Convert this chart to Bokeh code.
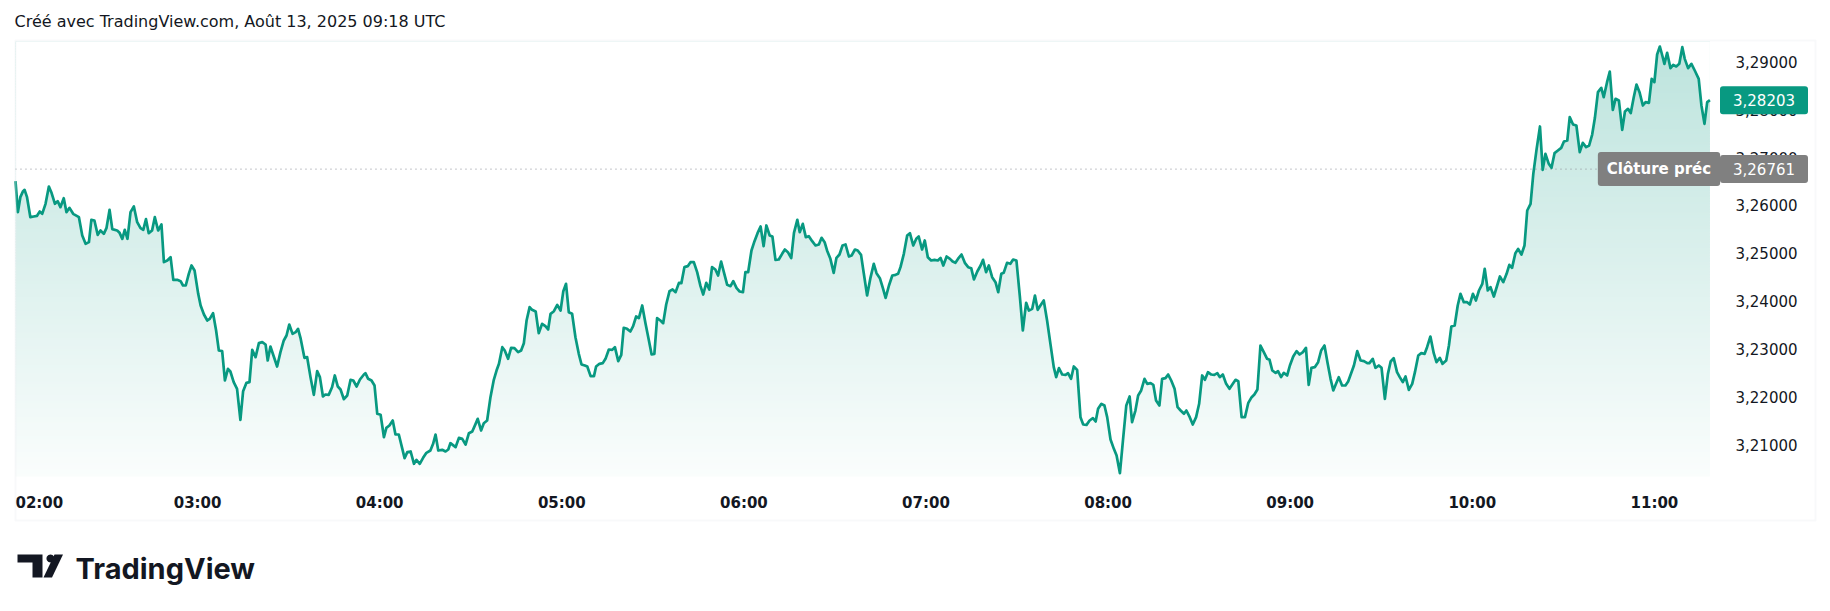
import numpy as np
from bokeh.plotting import figure
from bokeh.models import (Range1d, FixedTicker, CustomJSTickFormatter, Label,
                          BoxAnnotation, PolyAnnotation)
from bokeh.embed import file_html
from bokeh.resources import INLINE

# ---------------- data (minutes after 02:00, price) ----------------
minutes = [
    0.0, 0.8, 1.6, 2.5, 3.0, 3.8, 4.9, 6.0, 7.1, 8.0,
    8.8, 9.9, 11.0, 11.8, 13.0, 13.9, 14.8, 15.9, 16.8, 17.8,
    19.0, 20.9, 22.0, 23.1, 24.2, 25.0, 26.0, 27.1, 28.0, 29.1,
    30.0, 31.0, 31.9, 33.5, 34.3, 35.2, 36.0, 36.9, 37.9, 39.0,
    40.1, 41.2, 42.1, 43.0, 43.9, 45.0, 45.9, 47.0, 48.1, 48.9,
    50.0, 51.1, 52.0, 53.3, 54.4, 55.2, 56.1, 57.1, 58.0, 59.0,
    60.2, 61.0, 62.1, 63.2, 64.0, 65.1, 66.1, 67.0, 68.1, 69.0,
    70.0, 70.8, 71.9, 73.0, 74.1, 75.0, 76.1, 77.1, 78.0, 79.1,
    80.2, 81.3, 82.4, 83.1, 84.0, 85.1, 86.2, 87.3, 88.4, 89.3,
    90.2, 91.3, 92.3, 93.1, 93.9, 95.2, 96.1, 97.2, 98.3, 99.4,
    100.3, 101.3, 102.1, 103.2, 104.3, 105.2, 106.2, 107.1, 108.2, 109.3,
    110.4, 111.3, 112.4, 113.5, 114.8, 115.3, 116.2, 117.3, 118.3, 119.2,
    120.3, 121.4, 122.2, 123.2, 124.3, 125.2, 126.3, 127.4, 128.2, 129.1,
    130.2, 131.3, 132.1, 133.2, 134.3, 135.4, 136.7, 137.6, 138.4, 139.3,
    140.6, 141.7, 142.6,
    143.3, 145.0, 146.1, 147.2, 148.3, 149.4, 150.5, 151.6, 152.3, 153.4,
    154.3, 155.4, 156.5, 157.6, 158.5, 159.3, 160.4, 161.2, 162.3, 163.3,
    164.4, 165.6, 166.6, 167.5, 168.4, 169.4, 170.2, 171.4, 172.4, 173.5,
    174.6, 175.5, 176.3, 177.4, 178.5, 179.6, 180.5, 181.4, 182.3, 183.4,
    184.5, 185.6, 186.5, 187.6, 188.4, 189.5, 190.6, 191.3, 192.4, 193.5,
    194.4, 195.5, 196.6, 197.5, 198.6, 199.6, 200.4, 201.5, 202.6, 203.5,
    204.5, 205.4, 206.5, 207.6, 208.7, 209.6, 210.5, 211.4, 212.5, 213.4,
    214.4, 215.5, 216.5, 217.5, 218.6, 219.4, 220.4, 221.5, 222.4, 223.5,
    224.6, 225.7, 226.6, 227.6, 228.6, 229.5, 230.6, 231.5, 232.5, 233.4,
    234.5, 235.6, 236.5, 237.6, 238.6, 239.7, 240.5, 241.4, 242.5, 243.5,
    244.5, 245.5, 246.5, 247.4, 248.5, 249.4, 250.4, 251.5, 252.6, 253.5,
    254.5, 255.6, 256.5, 257.6, 258.4, 259.4, 260.4, 261.4, 262.5, 263.6,
    264.7, 265.6, 266.6, 267.4, 268.5, 269.6, 270.5, 271.5, 272.5, 273.5,
    274.6, 275.5, 276.6, 277.5, 278.6, 279.5, 280.6, 281.7, 282.8, 283.7,
    284.8, 285.8, 286.7, 287.8, 288.9, 290.0, 290.8,
    291.6, 292.7, 293.8, 294.7, 295.8, 296.8, 297.6, 298.7, 299.6, 300.6,
    301.7, 302.8, 303.9, 304.8, 305.7, 306.8, 307.9, 308.8, 309.7, 310.8,
    311.7, 312.8, 313.9, 314.9, 315.8, 316.9, 318.0, 318.8, 319.8, 320.7,
    321.8, 322.9, 323.8, 324.8, 325.6, 326.7, 327.8, 328.7, 329.8, 330.9,
    331.9, 333.0, 333.9, 335.0, 335.9, 336.8, 337.7, 338.8, 339.9, 341.0,
    342.1, 342.9, 343.8, 344.9, 346.0, 346.8, 347.8, 348.7, 349.8, 350.9,
    351.8, 352.9, 353.9, 355.0, 355.9, 356.7, 357.8, 358.8, 359.7, 360.8,
    361.9, 362.8, 363.9, 364.9, 366.0, 367.1, 367.9, 369.0, 369.9, 370.9,
    372.0, 372.9, 374.0, 374.9, 375.8, 376.9, 377.8, 378.9, 379.8, 380.8,
    381.9, 382.9, 383.9, 385.0, 385.8, 386.9, 387.9, 389.0, 390.0, 391.0,
    391.9, 392.9, 394.0, 395.0, 396.0, 396.8, 397.8, 398.9, 400.0, 401.1,
    402.0, 402.9, 404.0, 405.1, 406.2, 407.3, 408.2, 409.2, 410.2, 411.3,
    412.4, 413.2, 414.1, 415.2, 416.0, 417.0, 417.9, 419.0, 419.9, 421.0,
    422.1, 423.1, 424.2, 425.2, 426.1, 427.0, 428.1, 429.2, 430.2, 431.3,
    432.3, 433.3, 434.2, 435.1, 436.0, 437.1, 438.2, 439.1,
    441.0, 442.1, 443.2, 444.3, 445.4, 446.1, 447.2, 448.1, 449.2, 450.1,
    451.2, 452.2, 453.1, 454.1, 455.2, 456.1, 457.1, 458.0, 459.1, 460.2,
    461.1, 462.2, 463.2, 464.3, 465.1, 466.2, 467.3, 468.2, 469.3, 470.2,
    471.4, 472.3, 473.1, 474.2, 475.2, 476.1, 477.2, 478.3, 479.2, 480.2,
    481.2, 482.2, 483.3, 484.1, 485.1, 486.0, 487.1, 488.2, 489.1, 490.2,
    491.3, 492.2, 493.1, 494.2, 495.1, 496.2, 497.2, 498.1, 499.2, 500.1,
    501.2, 502.3, 503.2, 504.1, 505.2, 506.1, 507.1, 508.2, 509.3, 510.2,
    511.3, 512.1, 513.2, 514.3, 515.4, 516.4, 517.5, 518.5, 519.5, 520.4,
    521.4, 522.5, 523.3, 524.4, 525.3, 526.3, 527.2, 528.3, 529.4, 530.3,
    531.3, 532.2, 533.2, 534.1, 535.1, 536.2, 537.1, 538.2, 539.1, 540.0,
    540.9, 541.8, 542.6, 543.3, 544.2, 545.3, 546.2, 547.2, 548.2, 549.2,
    550.0, 551.1, 552.2, 553.3, 554.6, 555.5, 556.5, 557.4, 558.3,
]

prices = [
    3.26509, 3.25861, 3.26174, 3.26300, 3.26328, 3.26174, 3.25756, 3.25770, 3.25784, 3.25874,
    3.25826, 3.26035, 3.26397, 3.26279, 3.26035, 3.26091, 3.25965, 3.26153, 3.25861, 3.25951,
    3.25826, 3.25756, 3.25372, 3.25198, 3.25233, 3.25700, 3.25686, 3.25386, 3.25477, 3.25407,
    3.25533, 3.25909, 3.25505, 3.25477, 3.25428, 3.25303, 3.25491, 3.25303, 3.25861, 3.25979,
    3.25651, 3.25526, 3.25491, 3.25714, 3.25421, 3.25477, 3.25756, 3.25477, 3.25603, 3.24815,
    3.24849, 3.24919, 3.24445, 3.24445, 3.24417, 3.24326, 3.24326, 3.24570, 3.24745, 3.24640,
    3.24152, 3.23908, 3.23720, 3.23594, 3.23629, 3.23748, 3.23385, 3.22967, 3.22953, 3.22339,
    3.22583, 3.22527, 3.22304, 3.22165, 3.21516, 3.22116, 3.22290, 3.22304, 3.22980, 3.22827,
    3.23120, 3.23141, 3.23092, 3.22757, 3.23050, 3.22841, 3.22632, 3.22932, 3.23176, 3.23280,
    3.23510, 3.23315, 3.23350, 3.23420, 3.23232, 3.22813, 3.22827, 3.22409, 3.22039, 3.22534,
    3.22409, 3.22004, 3.22046, 3.22039, 3.22199, 3.22444, 3.22213, 3.22151, 3.21948, 3.22025,
    3.22353, 3.22339, 3.22213, 3.22360, 3.22464, 3.22492, 3.22374, 3.22339, 3.22234, 3.21642,
    3.21621, 3.21153, 3.21349, 3.21397, 3.21502, 3.21209, 3.21209, 3.20923, 3.20714, 3.20840,
    3.20854, 3.20596, 3.20679, 3.20596, 3.20721, 3.20826, 3.20874, 3.21014, 3.21209, 3.20874,
    3.20889, 3.20854, 3.20895,
    3.21028, 3.20944, 3.21139, 3.21119, 3.21000, 3.21237, 3.21272, 3.21432, 3.21537, 3.21293,
    3.21446, 3.21502, 3.21990, 3.22353, 3.22548, 3.22688, 3.23036, 3.22967, 3.22792, 3.23022,
    3.23015, 3.22932, 3.22967, 3.23120, 3.23594, 3.23873, 3.23817, 3.23782, 3.23329, 3.23524,
    3.23476, 3.23406, 3.23734, 3.23789, 3.23922, 3.23803, 3.24208, 3.24361, 3.23768, 3.23734,
    3.23245, 3.22897, 3.22674, 3.22653, 3.22632, 3.22430, 3.22430, 3.22632, 3.22688, 3.22702,
    3.22792, 3.22987, 3.22980, 3.23036, 3.22743, 3.22876, 3.23441, 3.23420, 3.23364, 3.23476,
    3.23678, 3.23643, 3.23908, 3.23524, 3.23176, 3.22883, 3.22897, 3.23643, 3.23594, 3.23538,
    3.23929, 3.24208, 3.24243, 3.24187, 3.24382, 3.24375, 3.24710, 3.24731, 3.24815, 3.24815,
    3.24605, 3.24312, 3.24138, 3.24382, 3.24243, 3.24710, 3.24661, 3.24536, 3.24828, 3.24605,
    3.24340, 3.24312, 3.24417, 3.24271, 3.24201, 3.24187, 3.24605, 3.24605, 3.25059, 3.25254,
    3.25421, 3.25561, 3.25149, 3.25582, 3.25372, 3.25351, 3.24863, 3.24870, 3.24989, 3.25079,
    3.25024, 3.24898, 3.25428, 3.25700, 3.25442, 3.25616, 3.25338, 3.25358, 3.25254, 3.25163,
    3.25184, 3.25324, 3.25233, 3.25059, 3.24884, 3.24591, 3.24905, 3.24975, 3.25163, 3.25184,
    3.24933, 3.24954, 3.25079, 3.25059, 3.24968, 3.24584, 3.24117, 3.24487, 3.24780, 3.24584,
    3.24480, 3.24271, 3.24068, 3.24326, 3.24536, 3.24550, 3.24570,
    3.24710, 3.24989, 3.25372, 3.25421, 3.25163, 3.25303, 3.25351, 3.25079, 3.25268, 3.24919,
    3.24849, 3.24863, 3.24849, 3.24905, 3.24745, 3.24933, 3.24884, 3.24828, 3.24801, 3.24905,
    3.24975, 3.24801, 3.24710, 3.24689, 3.24452, 3.24619, 3.24745, 3.24863, 3.24605, 3.24745,
    3.24501, 3.24396, 3.24187, 3.24570, 3.24591, 3.24801, 3.24780, 3.24870, 3.24849, 3.24117,
    3.23385, 3.23964, 3.23803, 3.23838, 3.24117, 3.23817, 3.23908, 3.24013, 3.23594, 3.23106,
    3.22618, 3.22409, 3.22597, 3.22464, 3.22457, 3.22492, 3.22374, 3.22632, 3.22562, 3.21572,
    3.21418, 3.21411, 3.21502, 3.21551, 3.21481, 3.21746, 3.21851, 3.21816, 3.21572, 3.21105,
    3.20909, 3.20770, 3.20400, 3.21084, 3.21816, 3.22004, 3.21467, 3.21711, 3.22025, 3.22130,
    3.22374, 3.22269, 3.22283, 3.22248, 3.21920, 3.21816, 3.22374, 3.22388, 3.22464, 3.22339,
    3.22165, 3.21781, 3.21711, 3.21642, 3.21711, 3.21572, 3.21418, 3.21572, 3.21851, 3.22444,
    3.22353, 3.22513, 3.22464, 3.22457, 3.22492, 3.22409, 3.22464, 3.22269, 3.22165, 3.22269,
    3.22353, 3.22325, 3.21572, 3.21572, 3.21872, 3.21990, 3.22046, 3.22151, 3.23071, 3.22932,
    3.22792, 3.22771, 3.22548, 3.22499, 3.22534, 3.22409, 3.22499, 3.22444, 3.22653, 3.22841,
    3.22953, 3.22883, 3.22932, 3.23022, 3.22248, 3.22604, 3.22618, 3.22722, 3.22967, 3.23071,
    3.22709, 3.22374, 3.22130, 3.22269, 3.22409, 3.22234, 3.22234, 3.22318,
    3.22653, 3.22953, 3.22757, 3.22743, 3.22702, 3.22702, 3.22792, 3.22604, 3.22653, 3.22604,
    3.21955, 3.22478, 3.22736, 3.22806, 3.22513, 3.22409, 3.22304, 3.22423, 3.22144, 3.22269,
    3.22513, 3.22862, 3.22911, 3.22897, 3.23036, 3.23259, 3.22911, 3.22722, 3.22813, 3.22688,
    3.22757, 3.23071, 3.23469, 3.23490, 3.23908, 3.24152, 3.23978, 3.23978, 3.23929, 3.24152,
    3.24013, 3.24222, 3.24361, 3.24675, 3.24222, 3.24292, 3.24096, 3.24326, 3.24515, 3.24396,
    3.24570, 3.24759, 3.24696, 3.25003, 3.25093, 3.24975, 3.25163, 3.25895, 3.26035, 3.26662,
    3.27185, 3.27653, 3.26746, 3.27081, 3.26872, 3.26788, 3.27095, 3.27151, 3.27206, 3.27339,
    3.27360, 3.27848, 3.27695, 3.27674, 3.27116, 3.27311, 3.27220, 3.27255, 3.27485, 3.27834,
    3.28371, 3.28462, 3.28266, 3.28580, 3.28803, 3.28001, 3.28232, 3.28197, 3.27583, 3.27967,
    3.28022, 3.27932, 3.28266, 3.28531, 3.28371, 3.28092, 3.28162, 3.28148, 3.28650, 3.28580,
    3.29159, 3.29326, 3.29138, 3.28964, 3.29194, 3.28873, 3.28943, 3.28908, 3.28964, 3.29312,
    3.29068, 3.28873, 3.28964, 3.28824, 3.28650, 3.28092, 3.27709, 3.28162, 3.28203,
]

hour_ticks = [0, 60, 120, 180, 240, 300, 360, 420, 480, 540]
hour_labels = ["02:00", "03:00", "04:00", "05:00", "06:00",
               "07:00", "08:00", "09:00", "10:00", "11:00"]
price_ticks = [3.21, 3.22, 3.23, 3.24, 3.25, 3.26, 3.27, 3.28, 3.29]
prev_close = 3.26761
last_price = 3.28203
title_text = "Créé avec TradingView.com, Août 13, 2025 09:18 UTC"
prev_close_text = "Clôture préc"
brand_text = "TradingView"

# ---------------- styling / layout ----------------
TEAL = "#089981"
GREY = "#808080"
INK = "#131722"
W, H = 1830, 611
# the plotting frame covers everything below the title; the price pane is a
# sub-rectangle of it (minutes 0 .. 561.45, prices 3.20331 .. 3.29431)
x_lo, x_hi = -4.94, 594.73
y_lo, y_hi = 3.175063, 3.295983
pane_left, pane_right = 0.0, 561.45
pane_bottom, pane_top = 3.203305, 3.294310


def fmt(v):
    return f"{v:.5f}".replace(".", ",")


p = figure(width=W, height=H, output_backend="svg", toolbar_location=None,
           x_range=Range1d(x_lo, x_hi), y_range=Range1d(y_lo, y_hi),
           y_axis_location="right",
           min_border_left=0, min_border_right=10,
           min_border_top=33, min_border_bottom=0)
p.grid.visible = False
p.outline_line_color = None
p.background_fill_color = "white"
p.border_fill_color = "white"

# title
p.title.text = title_text
p.title.align = "left"
p.title.offset = 14
p.title.standoff = 6
p.title.text_font = "DejaVu Sans"
p.title.text_font_size = "16px"
p.title.text_font_style = "normal"
p.title.text_color = INK

# gradient fill under the curve: coloured bands, then white above the line
n_bands = 160
edges = np.linspace(pane_bottom, pane_top, n_bands + 1)
tpos = (np.arange(n_bands) + 0.5) / n_bands
alphas = 0.02 + 0.25 * tpos
base = np.array([8, 153, 129])
band_cols = ["#%02x%02x%02x" % tuple(int(round(255 - a * (255 - c))) for c in base)
             for a in alphas]
step = edges[1] - edges[0]
band_tops = np.minimum(edges[1:] + step * 0.6, pane_top)
p.quad(left=minutes[0], right=minutes[-1], bottom=edges[:-1],
       top=band_tops, fill_color=band_cols, line_color=None)
p.varea(x=minutes, y1=prices, y2=[pane_top] * len(minutes),
        fill_color="white", fill_alpha=1.0)

# previous close dotted line (under the price line)
p.segment(x0=[pane_left], x1=[pane_right], y0=[prev_close], y1=[prev_close],
          line_color="#8a8d96", line_dash="1 4", line_width=1)

# price line
p.line(minutes, prices, line_color=TEAL, line_width=2.7, line_join="round")

# axes: labels drawn inward so they sit inside the chart box
p.xaxis.ticker = FixedTicker(ticks=hour_ticks[1:])
p.xaxis.major_label_overrides = {t: l for t, l in zip(hour_ticks[1:], hour_labels[1:])}
for ax in (p.xaxis[0], p.yaxis[0]):
    ax.axis_line_color = None
    ax.major_tick_line_color = None
    ax.minor_tick_line_color = None
    ax.major_tick_out = 0
    ax.major_tick_in = 0
    ax.major_label_text_font = "DejaVu Sans"
    ax.major_label_text_font_size = "15px"
    ax.major_label_text_color = INK
p.xaxis.major_label_text_font_style = "bold"
p.xaxis.major_label_standoff = -118
p.yaxis.ticker = FixedTicker(ticks=price_ticks)
p.yaxis.formatter = CustomJSTickFormatter(code="return tick.toFixed(5).replace('.', ',');")
p.yaxis.major_label_standoff = -85

# first time label sits flush with the pane's left edge
p.add_layout(Label(x=hour_ticks[0], y=502, x_units="data", y_units="canvas",
                   text=hour_labels[0], text_align="left", text_baseline="middle",
                   text_font="DejaVu Sans", text_font_size="15px",
                   text_font_style="bold", text_color=INK))


def tag(text, x, y, bg, pad, bold=False):
    lb = Label(x=x, y=y, x_units="canvas", y_units="data", text=text,
               text_align="center", text_baseline="middle",
               text_font="DejaVu Sans", text_font_size="15px",
               text_font_style="bold" if bold else "normal", text_color="white",
               background_fill_color=bg, background_fill_alpha=1.0, padding=pad)
    try:
        lb.border_radius = 3
    except Exception:
        pass
    p.add_layout(lb)


tag(fmt(last_price), 1763.5, last_price, TEAL, (13, 8))
tag(prev_close_text, 1658.5, prev_close, GREY, (9, 8), bold=True)
tag(fmt(prev_close), 1763.5, prev_close, GREY, (13, 8))

# outer frame of the chart
p.add_layout(BoxAnnotation(left=15, right=1815, top=40, bottom=520,
                           left_units="canvas", right_units="canvas",
                           top_units="canvas", bottom_units="canvas",
                           fill_color=None, line_color="#e9ebee", line_width=2))

# TradingView logo
p.add_layout(PolyAnnotation(xs=[17, 42, 42, 32, 32, 17], ys=[554, 554, 577, 577, 562, 562],
                            xs_units="canvas", ys_units="canvas",
                            fill_color=INK, fill_alpha=1, line_color=None))
ang = np.linspace(0, 2 * np.pi, 24, endpoint=False)
p.add_layout(PolyAnnotation(xs=list(50 + 4 * np.cos(ang)), ys=list(558 + 4 * np.sin(ang)),
                            xs_units="canvas", ys_units="canvas",
                            fill_color=INK, fill_alpha=1, line_color=None))
p.add_layout(PolyAnnotation(xs=[54, 62.5, 51.5, 43], ys=[554, 554, 577, 577],
                            xs_units="canvas", ys_units="canvas",
                            fill_color=INK, fill_alpha=1, line_color=None))
p.add_layout(Label(x=75, y=568, x_units="canvas", y_units="canvas", text=brand_text,
                   text_font="Inter", text_font_size="29px", text_font_style="bold",
                   text_color=INK, text_baseline="alphabetic"))

open("out.html", "w").write(file_html(p, INLINE))
